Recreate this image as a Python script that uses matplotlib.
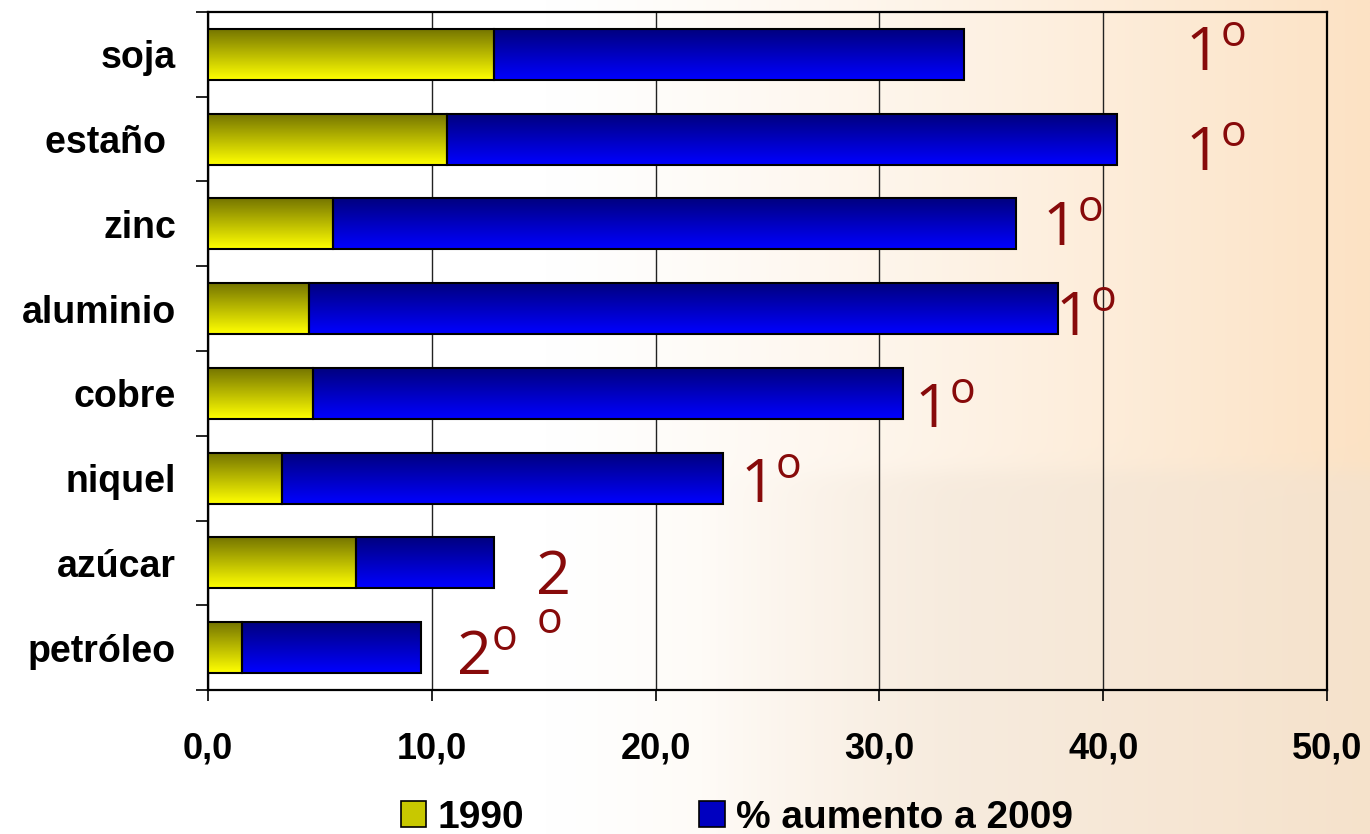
import numpy as np
import matplotlib
matplotlib.use("Agg")
import matplotlib.pyplot as plt
from matplotlib.patches import Patch

categories = ["soja", "estaño ", "zinc", "aluminio", "cobre", "niquel", "azúcar", "petróleo"]
v1990 = [12.8, 10.7, 5.6, 4.5, 4.7, 3.3, 6.6, 1.5]
aumento = [21.0, 29.9, 30.5, 33.5, 26.35, 19.7, 6.2, 8.0]
xticks = [0, 10, 20, 30, 40, 50]
xticklabels = ["0,0", "10,0", "20,0", "30,0", "40,0", "50,0"]
series_names = ["1990", "% aumento a 2009"]
# handwritten rank annotations: text, x (data), baseline y (data, of last line)
ann_text = [r"$\mathrm{1}^{\mathrm{o}}$"] * 6 + ["2\n" + r"$^{\mathrm{o}}$", r"$\mathrm{2}^{\mathrm{o}}$"]
ann_x = [43.66, 43.66, 37.27, 37.85, 31.55, 23.78, 14.65, 11.08]
ann_y = [0.18, 1.36, 2.25, 3.31, 4.40, 5.28, 7.075, 7.31]

plt.rcParams['font.family'] = ['Liberation Sans', 'DejaVu Sans']
plt.rcParams['mathtext.fontset'] = 'custom'
plt.rcParams['mathtext.rm'] = 'Open Sans'

W, H = 1370, 834
fig = plt.figure(figsize=(W / 100, H / 100), dpi=100)

# background gradient
bg = fig.add_axes([0, 0, 1, 1], zorder=-10)
nx, ny = 548, 334
xs = np.linspace(0, 1, nx)[None, :]
ys = np.linspace(0, 1, ny)[:, None]
t = np.clip((xs - 0.40) / 0.60, 0, 1) ** 1.2
white = np.array([1.0, 1.0, 1.0])
peach = np.array([252, 226, 196]) / 255.0
img = white[None, None, :] * (1 - t[..., None]) + peach[None, None, :] * t[..., None]
img = np.broadcast_to(img, (ny, nx, 3)).copy()
# subtle greyish cup shape in lower right
ypx = ys * H
xpx = xs * W
rim = 470 + 0.00004 * (xpx - 1150) ** 2
mask = 1 / (1 + np.exp(-(ypx - rim) / 6)) * np.clip((xpx - 700) / 250, 0, 1)
beige = np.array([238, 226, 212]) / 255.0
a = 0.45 * mask[..., None]
img = img * (1 - a) + beige[None, None, :] * a
bg.imshow(img, aspect='auto', extent=[0, 1, 0, 1], origin='upper', interpolation='bilinear')
bg.axis('off')

ax = fig.add_axes([208 / W, 1 - 690 / H, (1327 - 208) / W, (690 - 12) / H])
ax.patch.set_alpha(0)

y = np.arange(len(categories))
h = 0.6
b1 = ax.barh(y, v1990, height=h, color='none', edgecolor='black', linewidth=1.5, zorder=4)
b2 = ax.barh(y, aumento, left=v1990, height=h, color='none', edgecolor='black', linewidth=1.5, zorder=4)

def grad(c_top, c_bot):
    c_top = np.array(c_top) / 255.0
    c_bot = np.array(c_bot) / 255.0
    s = np.linspace(0, 1, 64)[:, None]
    g = c_top[None, :] * (1 - s) + c_bot[None, :] * s
    return g[:, None, :]

g_yel = grad((118, 118, 0), (255, 255, 0))
g_blu = grad((0, 0, 128), (0, 0, 255))
for bars, g in ((b1, g_yel), (b2, g_blu)):
    for p in bars:
        x0, y0, w_, h_ = p.get_x(), p.get_y(), p.get_width(), p.get_height()
        ax.imshow(g, aspect='auto', extent=[x0, x0 + w_, y0 + h_, y0], zorder=3, interpolation='bilinear')

ax.set_xlim(0, 50)
ax.set_ylim(len(categories) - 0.5, -0.5)
ax.set_xticks(xticks)
ax.set_xticklabels(xticklabels, fontsize=26, fontweight='bold')
ax.set_yticks(y)
ax.set_yticklabels(categories, fontsize=27, fontweight='bold')
ax.set_yticks(np.arange(-0.5, len(categories), 1), minor=True)
ax.tick_params(axis='y', which='major', length=0, pad=23)
ax.tick_params(axis='y', which='minor', length=9, width=1.2, direction='out')
ax.tick_params(axis='x', which='major', length=8, width=1.2, direction='out', pad=22)
ax.xaxis.grid(True, color='#222222', linewidth=1.0, zorder=1)
ax.set_axisbelow(True)
for s in ax.spines.values():
    s.set_linewidth(1.6)
    s.set_color('black')

# annotations
red = '#870a0a'
for txt, xx, yy in zip(ann_text, ann_x, ann_y):
    ax.text(xx, yy, txt, fontsize=44, color=red, family='Open Sans', ha='left', va='baseline',
            multialignment='left', linespacing=1.0, zorder=6)

handles = [Patch(facecolor='#c8c800', edgecolor='black', linewidth=1.2),
           Patch(facecolor='#0000c0', edgecolor='black', linewidth=1.2)]
leg = fig.legend(handles, series_names, loc='lower center', bbox_to_anchor=(0.538, -0.044),
                 ncol=2, frameon=False, prop={'size': 28, 'weight': 'bold'},
                 handlelength=0.65, handleheight=0.65, handletextpad=0.3, columnspacing=4.5)

fig.savefig("out.png", dpi=100)
